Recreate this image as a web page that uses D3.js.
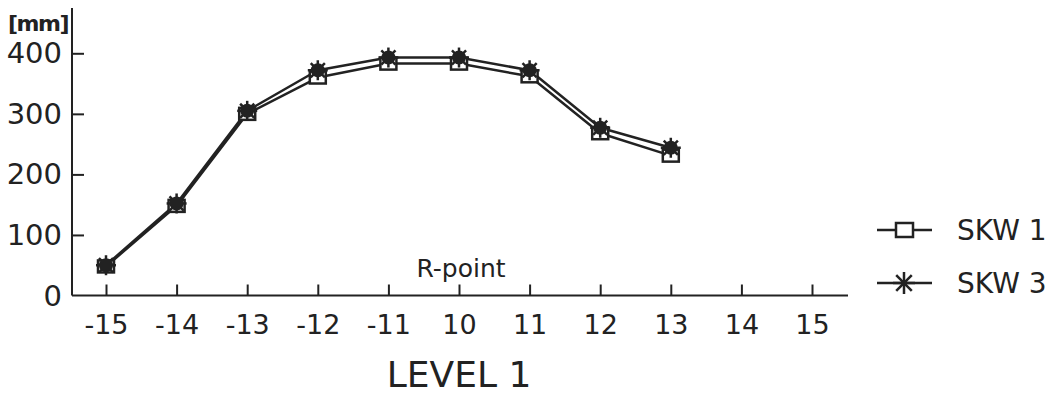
<!DOCTYPE html>
<html>
<head>
<meta charset="utf-8">
<script src="https://cdn.jsdelivr.net/npm/d3@7"></script>
<style>
  html, body { margin: 0; padding: 0; background: #fff; }
  svg { display: block; }
  text { font-family: "DejaVu Sans", sans-serif; fill: #222; }
</style>
</head>
<body>
<svg id="chart" width="1061" height="395"></svg>
<script>
// Level positions along the section
const levels = ["-15", "-14", "-13", "-12", "-11", "10", "11", "12", "13", "14", "15"];
// Measured values in mm (no readings beyond level 13)
const skw1 = [48, 148, 300, 360, 383, 383, 362, 268, 231];
const skw3 = [50, 152, 305, 372, 393, 393, 372, 277, 244];
const yTicks = [0, 100, 200, 300, 400];
const seriesNames = ["SKW 1", "SKW 3"];

const ink = "#222";
const svg = d3.select("#chart");

const x = d3.scalePoint().domain(levels).range([106, 812]);
const y = d3.scaleLinear().domain([0, 400]).range([295.5, 53.3]);

const axisX0 = 72, axisX1 = 848, axisYTop = 8;

// Axis lines
svg.append("line").attr("x1", axisX0).attr("x2", axisX0)
  .attr("y1", axisYTop).attr("y2", y(0))
  .attr("stroke", ink).attr("stroke-width", 2);
svg.append("line").attr("x1", axisX0).attr("x2", axisX1)
  .attr("y1", y(0)).attr("y2", y(0))
  .attr("stroke", ink).attr("stroke-width", 2);

// Y axis: ticks point into the plot
const gy = svg.append("g").attr("transform", `translate(${axisX0},0)`)
  .call(d3.axisLeft(y).tickValues(yTicks.filter(v => v > 0)).tickSizeInner(-12).tickSizeOuter(0).tickPadding(10));
gy.select(".domain").remove();
gy.selectAll("line").attr("stroke", ink).attr("stroke-width", 2);
gy.selectAll("text").attr("font-size", 29).attr("font-family", "DejaVu Sans").attr("fill", ink);
// zero label sits under the axis corner
svg.append("text").attr("x", 62).attr("y", y(0)).attr("dy", "0.36em")
  .attr("text-anchor", "end").attr("font-size", 29).text("0");

// X axis
const gx = svg.append("g").attr("transform", `translate(0,${y(0)})`)
  .call(d3.axisBottom(x).tickSizeInner(-11).tickSizeOuter(0).tickPadding(19));
gx.select(".domain").remove();
gx.selectAll("line").attr("stroke", ink).attr("stroke-width", 2);
gx.selectAll("text").attr("font-size", 27).attr("font-family", "DejaVu Sans").attr("fill", ink);

// Unit and axis titles
svg.append("text").attr("x", 8).attr("y", 31).attr("font-size", 22)
  .attr("font-weight", "bold").attr("letter-spacing", -1.5).text("[mm]");
svg.append("text").attr("x", x("10")).attr("y", 387).attr("text-anchor", "middle")
  .attr("font-size", 36).text("LEVEL 1");
svg.append("text").attr("x", 461).attr("y", 277).attr("text-anchor", "middle")
  .attr("font-size", 25).text("R-point");

// Lines
const line = d3.line().x((d, i) => x(levels[i])).y(d => y(d));
[skw1, skw3].forEach(s => {
  svg.append("path").datum(s).attr("d", line)
    .attr("fill", "none").attr("stroke", ink).attr("stroke-width", 2.5)
    .attr("stroke-linejoin", "round");
});

// Marker drawing helpers
function square(g, cx, cy) {
  g.append("rect").attr("x", cx - 8).attr("y", cy - 6).attr("width", 16).attr("height", 12)
    .attr("fill", "#fff").attr("stroke", ink).attr("stroke-width", 2.5);
}
function star(g, cx, cy, r, blob) {
  for (let k = 0; k < 4; k++) {
    const a = k * Math.PI / 4;
    g.append("line")
      .attr("x1", cx - r * Math.cos(a)).attr("y1", cy - r * Math.sin(a))
      .attr("x2", cx + r * Math.cos(a)).attr("y2", cy + r * Math.sin(a))
      .attr("stroke", ink).attr("stroke-width", 2.5);
  }
  if (blob) g.append("circle").attr("cx", cx).attr("cy", cy).attr("r", blob).attr("fill", ink);
}

const marks = svg.append("g");
skw1.forEach((v, i) => square(marks, x(levels[i]), y(v)));
skw3.forEach((v, i) => star(marks, x(levels[i]), y(v), 10, 7));

// Legend
const lg = svg.append("g");
const legendRows = [230, 283];
legendRows.forEach((ly, i) => {
  lg.append("line").attr("x1", 877).attr("x2", 932).attr("y1", ly).attr("y2", ly)
    .attr("stroke", ink).attr("stroke-width", 2.5);
  if (i === 0) {
    lg.append("rect").attr("x", 896).attr("y", ly - 7).attr("width", 17).attr("height", 14)
      .attr("fill", "#fff").attr("stroke", ink).attr("stroke-width", 2.5);
  } else {
    star(lg, 904, ly, 11, 3);
  }
  lg.append("text").attr("x", 957).attr("y", ly).attr("dy", "0.36em")
    .attr("font-size", 28).text(seriesNames[i]);
});
</script>
</body>
</html>
